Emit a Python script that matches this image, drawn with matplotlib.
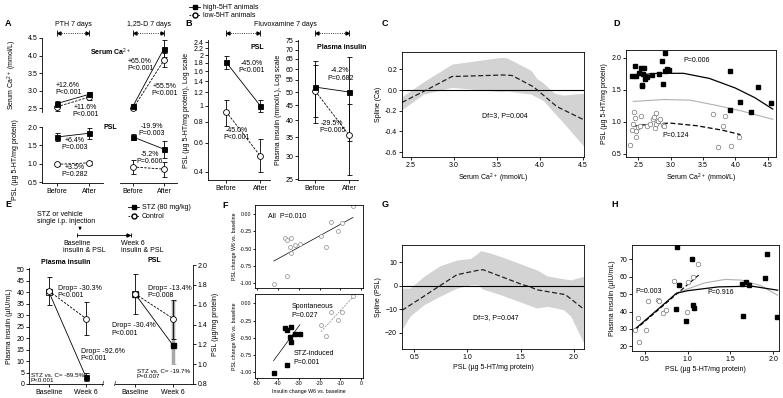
import numpy as np
import matplotlib
matplotlib.use("Agg")
import matplotlib.pyplot as plt
from matplotlib.lines import Line2D
from matplotlib.transforms import blended_transform_factory

plt.rcParams['font.family'] = ['Liberation Sans', 'DejaVu Sans']
plt.rcParams['font.size'] = 5
plt.rcParams['mathtext.fontset'] = 'custom'
plt.rcParams['mathtext.rm'] = 'Liberation Sans'
plt.rcParams['mathtext.bf'] = 'Liberation Sans:bold'
plt.rcParams['axes.linewidth'] = 0.6
for k in ['xtick', 'ytick']:
    plt.rcParams[k + '.major.size'] = 2
    plt.rcParams[k + '.major.width'] = 0.6
    plt.rcParams[k + '.major.pad'] = 1.5
plt.rcParams['axes.labelpad'] = 2

# ---------------- data ----------------
ba_x = [0, 1]
ba_labels = ['Before', 'After']

# A: serum Ca and PSL, PTH / 1,25-D
pth_ca_hi, pth_ca_hi_err = [2.64, 2.90], [0.08, 0.07]
pth_ca_lo, pth_ca_lo_err = [2.55, 2.82], [0.12, 0.08]
d_ca_hi, d_ca_hi_err = [2.57, 4.20], [0.05, 0.24]
d_ca_lo, d_ca_lo_err = [2.50, 3.87], [0.05, 0.20]
pth_psl_hi, pth_psl_hi_err = [1.73, 1.83], [0.10, 0.15]
pth_psl_lo, pth_psl_lo_err = [0.99, 1.03], [0.04, 0.06]
d_psl_hi, d_psl_hi_err = [1.73, 1.40], [0.07, 0.23]
d_psl_lo, d_psl_lo_err = [0.92, 0.86], [0.20, 0.20]

# B: fluvoxamine (log scales)
b_psl_hi, b_psl_hi_err = [1.82, 1.00], [[0.17, 0.08], [0.15, 0.08]]
b_psl_lo, b_psl_lo_err = [0.92, 0.50], [[0.17, 0.10], [0.16, 0.13]]
b_ins_hi, b_ins_hi_err = [52.0, 50.0], [[11.0, 16.0], [10.0, 16.0]]
b_ins_lo, b_ins_lo_err = [50.5, 35.5], [[11.5, 9.5], [13.5, 10.0]]
b_psl_ticks = [0.4, 0.6, 0.8, 1, 1.2, 1.4, 1.6, 1.8, 2, 2.2, 2.4]
b_ins_ticks = [25, 30, 35, 40, 45, 50, 55, 60, 65, 70, 75]

# C: spline of Ca
c_x = [2.40, 2.72, 2.98, 3.58, 3.68, 3.93, 4.20, 4.52]
c_y = [-0.12, 0.016, 0.13, 0.145, 0.14, 0.03, -0.16, -0.29]
c_band_x = [2.40, 2.65, 2.98, 3.55, 3.62, 3.90, 3.97, 4.04, 4.17, 4.27, 4.52]
c_band_hi = [-0.065, 0.08, 0.25, 0.315, 0.31, 0.19, 0.11, 0.07, -0.03, -0.05, -0.03]
c_band_lo = [-0.19, -0.04, 0.025, -0.015, -0.01, -0.04, -0.07, -0.10, -0.22, -0.31, -0.55]

# D: PSL vs serum Ca
d_hi_x = [2.41, 2.45, 2.47, 2.51, 2.54, 2.58, 2.56, 2.56, 2.59, 2.61, 2.64, 2.71, 2.82,
          2.87, 2.88, 2.91, 2.92, 2.94, 2.98, 3.92, 3.92, 4.08, 4.24, 4.35, 4.56]
d_hi_y = [1.72, 1.88, 1.72, 1.77, 1.84, 1.75, 1.58, 1.56, 1.85, 1.67, 1.70, 1.73, 1.75,
          1.95, 1.60, 1.80, 2.08, 1.83, 1.81, 1.79, 1.18, 1.31, 1.16, 1.54, 1.29]
d_lo_x = [2.44, 2.45, 2.42, 2.41, 2.46, 2.46, 2.50, 2.53, 2.54, 2.63, 2.68, 2.73, 2.75,
          2.76, 2.77, 2.78, 2.81, 2.84, 2.88, 2.90, 2.37, 3.66, 3.81, 3.84, 3.73, 3.93, 4.06]
d_lo_y = [1.15, 1.06, 0.97, 0.87, 0.85, 0.76, 0.92, 0.94, 1.09, 0.94, 0.97, 1.04, 1.08,
          0.91, 1.14, 0.96, 1.01, 1.05, 0.95, 0.94, 0.64, 1.13, 0.94, 1.09, 0.60, 0.62, 0.77]
d_fit_hi_x = [2.42, 2.8, 3.2, 3.6, 4.0, 4.3, 4.58]
d_fit_hi_y = [1.73, 1.76, 1.76, 1.68, 1.53, 1.38, 1.20]
d_fit_all_x = [2.42, 2.9, 3.3, 3.7, 4.1, 4.58]
d_fit_all_y = [1.32, 1.35, 1.34, 1.26, 1.17, 1.04]
d_fit_lo_x = [2.42, 2.7, 3.0, 3.4, 3.8, 4.08]
d_fit_lo_y = [0.93, 0.97, 0.98, 0.94, 0.87, 0.80]

# E: STZ
e_x = [0, 1]
e_labels = ['Baseline', 'Week 6']
e_ins_stz, e_ins_stz_err = [40.0, 3.0], [0.0, 1.6]
e_ins_ctl, e_ins_ctl_err = [40.5, 28.5], [6.0, 7.0]
e_psl_stz, e_psl_stz_err = [1.71, 1.19], [[0.0, 0.19], [0.0, 0.45]]
e_psl_ctl, e_psl_ctl_err = [1.71, 1.46], [[0.20, 0.21], [0.20, 0.185]]

# F: PSL change vs insulin change
f_stz_x = [-42.1, -35.6, -36.8, -35.7, -33.5, -34.1, -33.5, -31.7, -29.2]
f_stz_y = [-1.01, -0.89, -0.35, -0.38, -0.34, -0.48, -0.56, -0.45, -0.44]
f_spo_x = [-19.2, -17.1, -14.4, -11.1, -9.5, -4.0]
f_spo_y = [-0.32, -0.47, -0.12, -0.24, -0.13, 0.11]
f_all_fit_x, f_all_fit_y = [-42.0, -4.0], [-0.68, -0.05]
f_stz_fit_x, f_stz_fit_y = [-42.1, -29.5], [-0.83, -0.31]
f_spo_fit_x, f_spo_fit_y = [-19.4, -4.0], [-0.41, 0.09]

# G: spline of PSL
g_x = [0.385, 0.59, 0.73, 0.90, 1.12, 1.15, 1.52, 1.58, 1.65, 1.92, 2.09]
g_y = [-10.5, -4.5, -0.3, 4.7, 6.8, 6.8, 0.4, -0.3, -1.7, -3.8, -9.9]
g_band_x = [0.385, 0.46, 0.59, 0.74, 0.90, 1.03, 1.10, 1.12, 1.14, 1.22, 1.31,
            1.65, 1.75, 1.90, 1.97, 2.03, 2.09]
g_band_hi = [-1, -1, 4.0, 8.5, 11, 11.7, 14, 15, 14.8, 13.9, 12.5,
             6.8, 4.2, 3.0, 2.5, 3.3, 4.0]
g_band_lo = [-18.7, -13, -8.1, -4.5, -1, 0.4, 0.4, -0.5, -1.4, -2.5, -3.8,
             -9.5, -8.8, -10.2, -13, -18.7, -24.3]

# H: plasma insulin vs PSL
h_hi_x = [0.88, 1.05, 0.90, 0.87, 0.98, 1.06, 1.08, 1.64, 1.68, 1.72, 1.65, 1.90, 1.93, 2.04]
h_hi_y = [76.9, 70.0, 55.2, 41.5, 34.4, 44.0, 42.3, 55.8, 56.9, 55.2, 37.7, 59.4, 73.1, 36.7]
h_lo_x = [0.39, 0.42, 0.44, 0.52, 0.54, 0.66, 0.67, 0.71, 0.75, 0.84, 0.99, 1.00, 1.06, 1.12]
h_lo_y = [29.6, 36.3, 22.5, 29.6, 46.2, 46.9, 45.8, 39.2, 40.8, 57.7, 39.8, 57.1, 60.0, 67.3]
h_lo_fit_x, h_lo_fit_y = [0.39, 1.13], [29.5, 61.0]
h_all_fit_x = [0.39, 0.87, 1.0, 1.36, 1.75, 2.05]
h_all_fit_y = [30.0, 50.5, 52.0, 54.2, 54.6, 52.3]
h_hi_fit_x = [0.87, 1.0, 1.2, 1.44, 1.63, 1.85, 2.05]
h_hi_fit_y = [50.5, 53.0, 56.5, 58.5, 58.1, 55.0, 49.4]

# ---------------- figure ----------------
W, H = 783, 398
fig = plt.figure(figsize=(W / 100, H / 100), dpi=100)


def add_ax(l, t, r, b):
    ax = fig.add_axes([l / W, 1 - b / H, (r - l) / W, (b - t) / H])
    ax.patch.set_visible(False)
    return ax


def ftext(x, y, s, **kw):
    fig.text(x / W, 1 - y / H, s, **kw)


def open_spines(ax, left=True, bottom=True, right=False):
    ax.spines['top'].set_visible(False)
    ax.spines['right'].set_visible(right)
    ax.spines['left'].set_visible(left)
    ax.spines['bottom'].set_visible(bottom)


ERR = dict(capsize=1.8, elinewidth=0.6, capthick=0.6, lw=0.6, color='k', mew=0.6)


def pair(ax, x, hi, hi_err, lo, lo_err):
    ax.errorbar(x, lo, yerr=lo_err, ls='--', dashes=(3, 1.5), marker='o', ms=4.2,
                mfc='white', mec='k', clip_on=False, **ERR)
    ax.errorbar(x, hi, yerr=hi_err, ls='-', marker='s', ms=3.6, mfc='k', mec='k',
                clip_on=False, **ERR)


def header(ax, yp):
    tr = blended_transform_factory(ax.transData, fig.transFigure)
    yf = 1 - yp / H
    ax.plot([0, 1], [yf, yf], transform=tr, ls=':', lw=0.6, color='k', clip_on=False)
    ax.plot([0, 1], [yf, yf], transform=tr, ls='none', marker='|', ms=4, mew=0.6,
            color='k', clip_on=False)
    ax.plot([0.07], [yf], transform=tr, marker='<', ms=2.2, color='k', clip_on=False)
    ax.plot([0.93], [yf], transform=tr, marker='>', ms=2.2, color='k', clip_on=False)


# ----- A -----
a1 = add_ax(42, 38, 103, 112)
a2 = add_ax(120, 38, 177, 112)
a3 = add_ax(42, 127, 103, 183)
a4 = add_ax(120, 127, 177, 183)
for ax in (a1, a3):
    ax.set_xlim(-0.47, 1.44)
for ax in (a2, a4):
    ax.set_xlim(-0.42, 1.42)
for ax in (a1, a2):
    ax.set_ylim(2.4, 4.5)
for ax in (a3, a4):
    ax.set_ylim(0.485, 2.0)
open_spines(a1, bottom=False)
open_spines(a2, left=False, bottom=False)
open_spines(a3)
open_spines(a4, left=False)
a1.set_xticks([])
a2.set_xticks([])
a2.set_yticks([])
a4.set_yticks([])
a1.set_yticks([2.5, 3.0, 3.5, 4.0, 4.5])
a1.set_yticklabels(['2.5', '3.0', '3.5', '4.0', '4.5'])
a3.set_yticks([0.5, 1.0, 1.5, 2.0])
a3.set_yticklabels(['0.5', '1.0', '1.5', '2.0'])
for ax in (a3, a4):
    ax.set_xticks(ba_x)
    ax.set_xticklabels(ba_labels)
pair(a1, ba_x, pth_ca_hi, pth_ca_hi_err, pth_ca_lo, pth_ca_lo_err)
pair(a2, ba_x, d_ca_hi, d_ca_hi_err, d_ca_lo, d_ca_lo_err)
pair(a3, ba_x, pth_psl_hi, pth_psl_hi_err, pth_psl_lo, pth_psl_lo_err)
pair(a4, ba_x, d_psl_hi, d_psl_hi_err, d_psl_lo, d_psl_lo_err)
a1.set_ylabel('Serum Ca$^{2+}$ (mmol/L)')
a3.set_ylabel('PSL (µg 5-HT/mg protein)')
a1.yaxis.set_label_coords(-0.38, 0.5)
a3.yaxis.set_label_coords(-0.38, 0.42)
kw = dict(ha='center', va='center', linespacing=1.05)
a1.text(0.35, 3.05, '+12.6%\nP<0.001', **kw)
a1.text(0.9, 2.43, '+11.6%\nP<0.001', **kw)
a2.text(-0.74, 4.1, 'Serum Ca$^{2+}$', ha='center', va='center', fontweight='bold')
a2.text(0.23, 3.73, '+65.0%\nP<0.001', **kw)
a2.text(1.03, 3.02, '+55.5%\nP<0.001', **kw)
a4.text(-0.74, 2.0, 'PSL', ha='center', va='center', fontweight='bold')
a4.text(0.61, 1.92, '-19.9%\nP=0.003', **kw)
a3.text(0.56, 1.55, '+6.4%\nP=0.003', **kw)
a4.text(0.55, 1.16, '-5.2%\nP=0.606', **kw)
a3.text(0.56, 0.80, '+3.5%\nP=0.282', **kw)
header(a1, 33)
header(a2, 33)
ftext(73, 25, 'PTH 7 days', ha='center', va='center')
ftext(149, 25, '1,25-D 7 days', ha='center', va='center')

# legend for A/B
h_hi = Line2D([], [], color='k', marker='s', ms=3.2, lw=0.6)
h_lo = Line2D([], [], color='k', ls='--', dashes=(2, 1.5), marker='o', mfc='white', ms=3.6, lw=0.6)
fig.legend([h_hi, h_lo], ['high-5HT animals', 'low-5HT animals'], loc='upper left',
           bbox_to_anchor=(185 / W, 1 - 0 / H), frameon=False, handlelength=1.6,
           handletextpad=0.4, labelspacing=0.15, fontsize=5, borderpad=0.1)

# ----- B -----
b1 = add_ax(208, 40, 270, 180)
b2 = add_ax(298, 40, 358, 180)
for ax in (b1, b2):
    open_spines(ax)
    ax.set_yscale('log')
    ax.set_xticks(ba_x)
    ax.set_xticklabels(ba_labels)
b1.set_xlim(-0.53, 1.29)
b2.set_xlim(-0.5, 1.26)
b1.set_ylim(0.358, 2.47)
b2.set_ylim(24.9, 75.5)
b1.set_yticks(b_psl_ticks)
b1.set_yticklabels([('%g' % v) for v in b_psl_ticks])
b2.set_yticks(b_ins_ticks)
b2.set_yticklabels([str(v) for v in b_ins_ticks])
b1.minorticks_off()
b2.minorticks_off()
pair(b1, ba_x, b_psl_hi, b_psl_hi_err, b_psl_lo, b_psl_lo_err)
pair(b2, ba_x, b_ins_hi, b_ins_hi_err, b_ins_lo, b_ins_lo_err)
b1.set_ylabel('PSL (µg 5-HT/mg protein), Log scale', labelpad=2)
b2.set_ylabel('Plasma insulin (mmol/L), Log scale', labelpad=2)
b1.text(0.91, 2.24, 'PSL', ha='center', va='center', fontweight='bold')
b1.text(0.76, 1.71, '-45.0%\nP<0.001', **kw)
b1.text(0.32, 0.675, '-45.0%\nP<0.001', **kw)
b2.text(0.79, 71, 'Plasma insulin', ha='center', va='center', fontweight='bold')
b2.text(0.74, 57.4, '-4.2%\nP=0.682', **kw)
b2.text(0.50, 38.0, '-29.5%\nP=0.005', **kw)
header(b1, 33)
header(b2, 33)
ftext(285, 25, 'Fluvoxamine 7 days', ha='center', va='center')

# ----- C -----
c = add_ax(402, 52, 584, 157)
c.fill_between(c_band_x, c_band_lo, c_band_hi, color='#d3d3d3', lw=0)
c.axhline(0, color='k', lw=0.8)
c.plot(c_x, c_y, color='#222222', ls='--', dashes=(4, 2), lw=0.9)
c.set_xlim(2.4, 4.516)
c.set_ylim(-0.647, 0.367)
c.set_xticks([2.5, 3.0, 3.5, 4.0, 4.5])
c.set_xticklabels(['2.5', '3.0', '3.5', '4.0', '4.5'])
c.set_yticks([-0.6, -0.4, -0.2, 0.0, 0.2])
c.set_yticklabels(['-0.6', '-0.4', '-0.2', '0.0', '0.2'])
c.set_xlabel('Serum Ca$^{2+}$ (mmol/L)')
c.set_ylabel('Spline (Ca)')
c.text(3.6, -0.25, 'Df=3, P=0.004', ha='center', va='center')

# ----- D -----
d = add_ax(626, 50, 776, 157)
d.plot(d_fit_all_x, d_fit_all_y, color='#b0b0b0', lw=0.8)
d.plot(d_fit_hi_x, d_fit_hi_y, color='k', lw=0.9)
d.plot(d_fit_lo_x, d_fit_lo_y, color='k', lw=0.9, ls='--', dashes=(4, 2))
d.plot(d_lo_x, d_lo_y, ls='none', marker='o', ms=3.3, mfc='white', mec='#777777', mew=0.5)
d.plot(d_hi_x, d_hi_y, ls='none', marker='s', ms=3.0, mfc='k', mec='k')
d.set_xlim(2.31, 4.63)
d.set_ylim(0.45, 2.125)
d.set_xticks([2.5, 3.0, 3.5, 4.0, 4.5])
d.set_xticklabels(['2.5', '3.0', '3.5', '4.0', '4.5'])
d.set_yticks([0.5, 1.0, 1.5, 2.0])
d.set_yticklabels(['0.5', '1.0', '1.5', '2.0'])
d.set_xlabel('Serum Ca$^{2+}$ (mmol/L)')
d.set_ylabel('PSL (µg 5-HT/mg protein)')
d.text(3.4, 1.96, 'P=0.006', ha='center', va='center')
d.text(3.08, 0.78, 'P=0.124', ha='center', va='center')

# ----- E -----
e1 = add_ax(29, 268, 103, 384)
e2 = add_ax(115, 265, 193, 384)
open_spines(e1)
open_spines(e2, left=False, right=True)
e2.yaxis.tick_right()
e2.yaxis.set_label_position('right')
e1.set_xlim(-0.54, 1.46)
e2.set_xlim(-0.526, 1.526)
e1.set_ylim(0, 50.5)
e2.set_ylim(0.8, 2.0)
for ax in (e1, e2):
    ax.set_xticks(e_x)
    ax.set_xticklabels(e_labels)
e1.set_yticks(range(0, 51, 5))
e2.set_yticks([0.8, 1.0, 1.2, 1.4, 1.6, 1.8, 2.0])
e2.set_yticklabels(['0.8', '1.0', '1.2', '1.4', '1.6', '1.8', '2.0'])
e1.set_ylabel('Plasma insulin (µIU/mL)')
e2.set_ylabel('PSL (µg/mg protein)', rotation=90, labelpad=3)
e1.set_title('Plasma insulin', fontweight='bold', fontsize=5, pad=3)
e2.set_title('PSL', fontweight='bold', fontsize=5, pad=2)

# insulin
e1.plot(e_x, e_ins_stz, color='k', lw=0.6)
e1.errorbar(e_x[1:], e_ins_stz[1:], yerr=e_ins_stz_err[1:], ls='none', marker='s', ms=3.6,
            mfc='k', mec='k', **ERR)
e1.errorbar(e_x, e_ins_ctl, yerr=e_ins_ctl_err, ls='--', dashes=(3, 1.5), marker='o', ms=4.2,
            mfc='white', mec='k', **ERR)
e1.plot(e_x[:1], e_ins_stz[:1], ls='none', marker='s', ms=4.2, mfc='white', mec='k', mew=0.6)
# PSL
e2.errorbar(e_x[1:], e_psl_stz[1:], yerr=[e_psl_stz_err[0][1:], e_psl_stz_err[1][1:]],
            ls='none', capsize=1.8, elinewidth=2.5, ecolor='#a8a8a8', capthick=0.6)
e2.plot(e_x, e_psl_stz, color='k', lw=0.6, marker='s', ms=3.6, mfc='k', mec='k')
e2.errorbar(e_x, e_psl_ctl, yerr=e_psl_ctl_err, ls='--', dashes=(3, 1.5), marker='o', ms=4.2,
            mfc='white', mec='k', **ERR)
e2.plot(e_x[:1], e_psl_stz[:1], ls='none', marker='s', ms=4.2, mfc='white', mec='k', mew=0.6)

kl = dict(ha='left', va='center', linespacing=1.05)
e1.text(0.24, 39.9, 'Drop= -30.3%\nP<0.001', **kl)
e1.text(0.86, 12.5, 'Drop= -92.6%\nP<0.001', **kl)
e1.text(-0.49, 2.7, 'STZ vs. C= -89.5%\nP<0.001', fontsize=4.5, **kl)
e2.text(0.33, 1.73, 'Drop= -13.4%\nP=0.008', **kl)
e2.text(-0.61, 1.35, 'Drop= -30.4%\nP<0.001', **kl)
e2.text(0.04, 0.90, 'STZ vs. C= -19.7%\nP=0.007', fontsize=4.5, **kl)
e1.text(1.0, 0.0, '/', transform=e1.transAxes, ha='center', va='center', fontsize=5.5)
e2.text(0.0, 0.0, '/', transform=e2.transAxes, ha='center', va='center', fontsize=5.5)

# E diagram
ov = fig.add_axes([0, 0, 1, 1])
ov.set_xlim(0, W)
ov.set_ylim(H, 0)
ov.axis('off')
ftext(37, 218, 'STZ or vehicle\nsingle i.p. injection', ha='left', va='center', linespacing=1.1)
ov.annotate('', xy=(80, 233), xytext=(80, 225),
            arrowprops=dict(arrowstyle='-|>', lw=0.6, color='k', mutation_scale=4))
ov.plot([77, 131], [235, 235], color='k', lw=0.6)
ov.plot([77, 131], [235, 235], ls='none', marker='|', ms=3.5, mew=0.6, color='k')
ov.plot([128], [235], marker='>', ms=2.2, color='k')
ftext(63, 247, 'Baseline\ninsulin & PSL', ha='left', va='center', linespacing=1.1)
ftext(121, 247, 'Week 6\ninsulin & PSL', ha='left', va='center', linespacing=1.1)
h_stz = Line2D([], [], color='k', marker='s', ms=3.2, lw=0.6)
h_ctl = Line2D([], [], color='k', ls='--', dashes=(2, 1.5), marker='o', mfc='white', ms=3.6, lw=0.6)
fig.legend([h_stz, h_ctl], ['STZ (80 mg/kg)', 'Control'], loc='upper left',
           bbox_to_anchor=(124 / W, 1 - 200 / H), frameon=False, handlelength=1.6,
           handletextpad=0.4, labelspacing=0.3, fontsize=5, borderpad=0.1)

# ----- F -----
f1 = add_ax(255, 205, 363, 288)
f2 = add_ax(255, 294, 363, 378)
for ax in (f1, f2):
    ax.set_xlim(-51, 0.8)
    ax.set_xticks([-50, -40, -30, -20, -10, 0])
    ax.set_yticks([-1.0, -0.75, -0.5, -0.25, 0.0])
    ax.set_yticklabels(['-1.00', '-0.75', '-0.50', '-0.25', '0.00'])
    ax.tick_params(labelsize=3.8, length=1.5, pad=1)
    ax.set_ylabel('PSL change W6 vs. baseline', fontsize=3.8, labelpad=1.5)
f1.set_ylim(-1.07, 0.13)
f2.set_ylim(-1.08, 0.135)
f1.set_xticklabels([])
f2.set_xticklabels(['-50', '-40', '-30', '-20', '-10', '0'])
f2.set_xlabel('Insulin change W6 vs. baseline', fontsize=3.8, labelpad=2)
f1.plot(f_all_fit_x, f_all_fit_y, color='k', lw=0.5)
f1.plot(f_stz_x + f_spo_x, f_stz_y + f_spo_y, ls='none', marker='o', ms=2.8, mfc='white',
        mec='#888888', mew=0.5)
f1.text(-44.8, -0.03, 'All  P=0.010', ha='left', va='center', fontsize=5)
f2.plot(f_stz_fit_x, f_stz_fit_y, color='k', lw=0.5)
f2.plot(f_spo_fit_x, f_spo_fit_y, color='#888888', lw=0.5, ls='--', dashes=(3, 1.5))
f2.plot(f_stz_x, f_stz_y, ls='none', marker='s', ms=2.6, mfc='k', mec='k')
f2.plot(f_spo_x, f_spo_y, ls='none', marker='o', ms=2.8, mfc='white', mec='#888888', mew=0.5)
f2.text(-33.5, -0.11, 'Spontaneous\nP=0.027', ha='left', va='center', fontsize=5,
        linespacing=1.3)
f2.text(-32.5, -0.79, 'STZ-induced\nP=0.001', ha='left', va='center', fontsize=5,
        linespacing=1.3)

# ----- G -----
g = add_ax(402, 245, 584, 349)
g.fill_between(g_band_x, g_band_lo, g_band_hi, color='#d3d3d3', lw=0)
g.axhline(0, color='k', lw=0.8)
g.plot(g_x, g_y, color='#222222', ls='--', dashes=(4, 2), lw=0.9)
g.set_xlim(0.385, 2.094)
g.set_ylim(-27, 17.4)
g.set_xticks([0.5, 1.0, 1.5, 2.0])
g.set_xticklabels(['0.5', '1.0', '1.5', '2.0'])
g.set_yticks([-20, -10, 0, 10])
g.set_xlabel('PSL (µg 5-HT/mg protein)')
g.set_ylabel('Spline (PSL)')
g.text(1.27, -13.7, 'Df=3, P=0.047', ha='center', va='center')

# ----- H -----
hx = add_ax(632, 245, 779, 351)
hx.plot(h_hi_fit_x, h_hi_fit_y, color='#b0b0b0', lw=0.8)
hx.plot(h_all_fit_x, h_all_fit_y, color='k', lw=0.9)
hx.plot(h_lo_fit_x, h_lo_fit_y, color='k', lw=0.8, ls='--', dashes=(4, 2))
hx.plot(h_lo_x, h_lo_y, ls='none', marker='o', ms=3.3, mfc='white', mec='#777777', mew=0.5)
hx.plot(h_hi_x, h_hi_y, ls='none', marker='s', ms=3.0, mfc='k', mec='k')
hx.set_xlim(0.353, 2.066)
hx.set_ylim(17.3, 78.3)
hx.set_xticks([0.5, 1.0, 1.5, 2.0])
hx.set_xticklabels(['0.5', '1.0', '1.5', '2.0'])
hx.set_yticks([20, 30, 40, 50, 60, 70])
hx.set_xlabel('PSL (µg 5-HT/mg protein)')
hx.set_ylabel('Plasma insulin (µIU/mL)')
hx.text(0.39, 51.3, 'P=0.003', ha='left', va='center')
hx.text(1.38, 50.8, 'P=0.916', ha='center', va='center')

# panel letters
for s, x, y in [('A', 5, 23), ('B', 185, 23), ('C', 382, 23), ('D', 613, 23),
                ('E', 5, 205), ('F', 222, 206), ('G', 382, 205), ('H', 611, 205)]:
    ftext(x, y, s, fontweight='bold', fontsize=6.5, ha='left', va='center')

fig.savefig('out.png', dpi=100)
